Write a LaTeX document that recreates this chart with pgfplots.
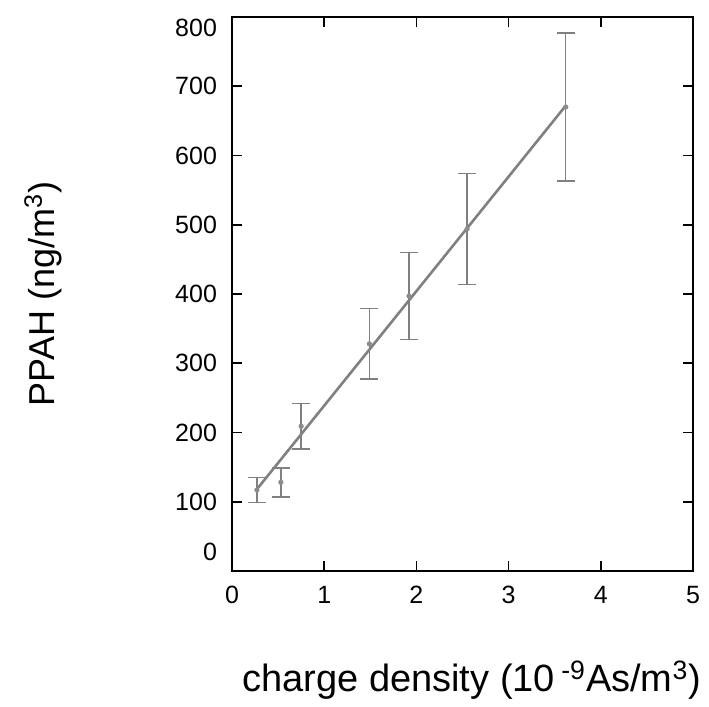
\documentclass[border=0pt]{standalone}
\usepackage{fontspec}
\setmainfont{Liberation Sans}
\usepackage{pgfplots}
\pgfplotsset{compat=1.18}
\begin{document}
\begin{tikzpicture}
\begin{axis}[
    scale only axis,
    width=230.5pt, height=277pt,
    xmin=0, xmax=5,
    ymin=0, ymax=800,
    xtick={0,1,2,3,4,5},
    ytick={0,100,200,300,400,500,600,700},
    % end labels sit a little inside the frame, as in the original
    yticklabels={\raisebox{19pt}{0},100,200,300,400,500,600,700},
    extra y ticks={800},
    extra y tick style={yticklabel style={yshift=-5.5pt}},
    tick pos=both,
    tick align=inside,
    major tick length=5pt,
    axis line style={line width=1pt},
    tick style={line width=0.8pt, black},
    /pgf/number format/assume math mode=true,
    tick label style={font=\fontsize{12.5}{14}\selectfont},
    xticklabel style={yshift=-4pt},
    yticklabel style={xshift=-4pt},
    xlabel={charge density (10\,\textsuperscript{-9}As/m\textsuperscript{3})},
    ylabel={PPAH (ng/m\textsuperscript{3})},
    xlabel style={font=\fontsize{19}{21}\selectfont, at={(axis description cs:0.52,-0.197)}, anchor=center},
    ylabel style={font=\fontsize{18}{20}\selectfont, at={(axis description cs:-0.41,0.5)}, anchor=center},
]
% measured points with error bars
\addplot[
    only marks,
    mark=*,
    mark size=1.1pt,
    color=black!45,
    error bars/.cd,
    y dir=both, y explicit,
    error bar style={line width=0.7pt, black!50},
    error mark options={rotate=90, mark size=4.5pt, line width=0.7pt, black!50},
] coordinates {
    (0.27,117) +- (0,18)
    (0.53,128) +- (0,21)
    (0.75,209) +- (0,33)
    (1.49,328) +- (0,51)
    (1.92,397) +- (0,63)
    (2.55,494) +- (0,80)
    (3.62,670) +- (0,107)
};
% linear fit
\addplot[color=black!50, line width=1.3pt, no marks] coordinates {
    (0.27,118) (3.62,672)
};
\end{axis}
\path (current axis.south west) ++(-116pt,-64pt) coordinate (bbA);
\path (current axis.north east) ++(8pt,8.5pt) coordinate (bbB);
\path (bbA) rectangle (bbB);
\end{tikzpicture}
\end{document}
